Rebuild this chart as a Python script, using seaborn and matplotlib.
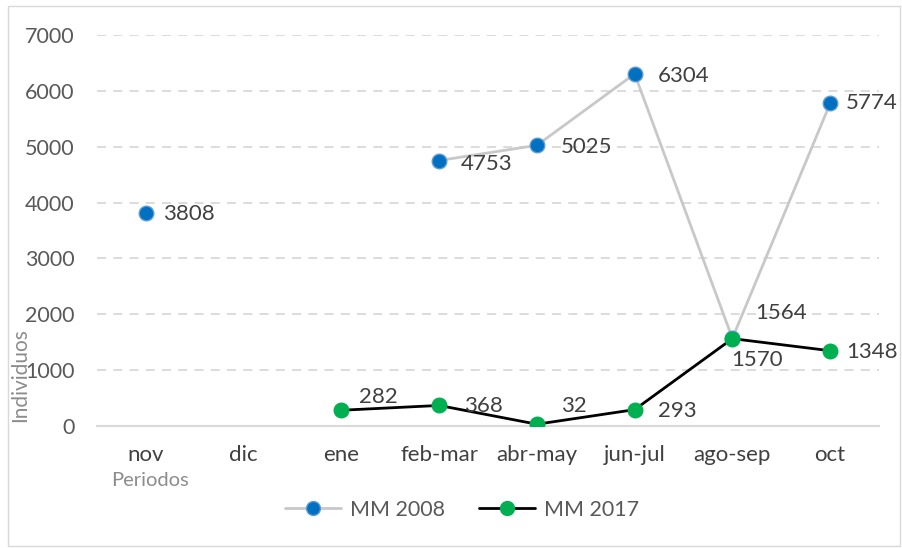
import numpy as np
import pandas as pd
import matplotlib
matplotlib.use('Agg')
import matplotlib.pyplot as plt
from matplotlib.lines import Line2D
from matplotlib.patches import Rectangle
import seaborn as sns

# datos
periodos = ['nov', 'dic', 'ene', 'feb-mar', 'abr-may', 'jun-jul', 'ago-sep', 'oct']
mm_2008 = [3808, np.nan, np.nan, 4753, 5025, 6304, 1570, 5774]
mm_2017 = [np.nan, np.nan, 282, 368, 32, 293, 1564, 1348]
series = ['MM 2008', 'MM 2017']

# tabla larga, con segmentos para respetar los huecos
rows = []
for name, vals in zip(series, [mm_2008, mm_2017]):
    seg = 0
    for i, v in enumerate(vals):
        if np.isnan(v):
            seg += 1
            continue
        rows.append({'x': i, 'valor': v, 'serie': name, 'seg': f'{name}-{seg}'})
df = pd.DataFrame(rows)

sns.set_style('white')
plt.rcParams['font.family'] = ['Lato', 'DejaVu Sans']

fig = plt.figure(figsize=(9.02, 5.48), dpi=100)
ax = fig.add_axes([97 / 902, 1 - 426 / 548, (879 - 97) / 902, (426 - 35) / 548])

line_pal = {'MM 2008': '#C8C8C8', 'MM 2017': '#000000'}
mark_pal = {'MM 2008': '#0070C0', 'MM 2017': '#00B050'}
edge_pal = {'MM 2008': '#5B9BD5', 'MM 2017': '#00B050'}

sns.lineplot(data=df, x='x', y='valor', hue='serie', units='seg', estimator=None,
             palette=line_pal, linewidth=2, legend=False, ax=ax, zorder=2)
for name in series:
    sub = df[df['serie'] == name]
    sns.scatterplot(data=sub, x='x', y='valor', color=mark_pal[name], s=110,
                    edgecolor=edge_pal[name], linewidth=1, legend=False, ax=ax, zorder=3)

# etiquetas de datos (desplazamiento en px, y hacia arriba)
offsets_2008 = {0: (17, -1), 3: (22, -3), 4: (24, -2), 5: (23, -2), 6: (-1, -22), 7: (16, 0)}
offsets_2017 = {2: (18, 13), 3: (25, -1), 4: (24, 18), 5: (23, -1), 6: (23, 26), 7: (16, -1)}
for vals, offs in [(mm_2008, offsets_2008), (mm_2017, offsets_2017)]:
    for i, (dx, dy) in offs.items():
        ax.annotate(f'{int(vals[i])}', (i, vals[i]), xytext=(dx * 0.72, dy * 0.72),
                    textcoords='offset points', ha='left', va='center',
                    fontsize=16, color='#404040', zorder=4, annotation_clip=False)

ax.set_xlim(-0.5, 7.5)
ax.set_ylim(0, 7000)
ax.set_xticks(range(len(periodos)))
ax.set_xticklabels(periodos)
ax.set_yticks(range(0, 7001, 1000))
ax.tick_params(axis='x', length=0, labelsize=16, colors='#404040', pad=14)
ax.tick_params(axis='y', length=0, labelsize=15.5, colors='#595959', pad=16)
for y in range(1000, 7001, 1000):
    ax.axhline(y, color='#D9D9D9', linewidth=1.3, linestyle=(0, (5, 4)), zorder=0)
for s in ['top', 'right', 'left']:
    ax.spines[s].set_visible(False)
ax.spines['bottom'].set_color('#D9D9D9')
ax.spines['bottom'].set_linewidth(1.5)
ax.set_xlabel('')
ax.set_ylabel('')

fig.text(20 / 902, 1 - 375 / 548, 'Individuos', rotation=90, ha='center', va='center',
         fontsize=15, color='#8C8C8C')
fig.text(150 / 902, 1 - 481 / 548, 'Periodos', ha='center', va='center',
         fontsize=14.5, color='#8C8C8C')

handles = [
    Line2D([], [], color=line_pal[n], linewidth=2, marker='o', markersize=10,
           markerfacecolor=mark_pal[n], markeredgecolor=edge_pal[n]) for n in series
]
fig.legend(handles, series, loc='center', bbox_to_anchor=(462 / 902, 1 - 510 / 548),
           ncol=2, frameon=False, fontsize=15.5, labelcolor='#595959',
           handlelength=2.6, columnspacing=1.6, handletextpad=0.4)

fig.patches.append(Rectangle((8 / 902, 2 / 548), 892 / 902, 540 / 548, transform=fig.transFigure,
                             fill=False, edgecolor='#D9D9D9', linewidth=1))

fig.savefig('out.png', dpi=100)
